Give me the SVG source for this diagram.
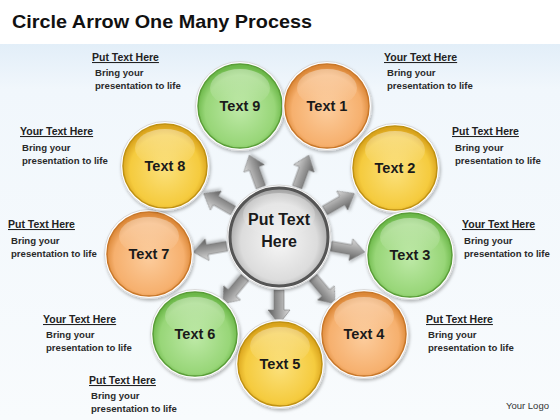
<svg xmlns="http://www.w3.org/2000/svg" width="560" height="420" viewBox="0 0 560 420">
<defs>
<linearGradient id="bg" x1="0" y1="0" x2="0" y2="1">
<stop offset="0" stop-color="#e2eef8"/><stop offset="0.12" stop-color="#f1f7fc"/><stop offset="1" stop-color="#f8fbfd"/>
</linearGradient>
<radialGradient id="gGreen" cx="50%" cy="55%" r="52%">
<stop offset="0" stop-color="#bde9a6"/><stop offset="0.8" stop-color="#98d678"/><stop offset="1" stop-color="#6cb849"/>
</radialGradient>
<radialGradient id="gOrange" cx="50%" cy="55%" r="52%">
<stop offset="0" stop-color="#fccc9c"/><stop offset="0.8" stop-color="#f6b06e"/><stop offset="1" stop-color="#dc8838"/>
</radialGradient>
<radialGradient id="gYellow" cx="50%" cy="55%" r="52%">
<stop offset="0" stop-color="#fbe07a"/><stop offset="0.8" stop-color="#f5cb3e"/><stop offset="1" stop-color="#d9a31c"/>
</radialGradient>
<radialGradient id="gGrey" cx="50%" cy="55%" r="52%">
<stop offset="0" stop-color="#f6f6f6"/><stop offset="0.75" stop-color="#dcdcdc"/><stop offset="1" stop-color="#a8a8a8"/>
</radialGradient>
<linearGradient id="gloss" x1="0" y1="0" x2="0" y2="1">
<stop offset="0" stop-color="#ffffff" stop-opacity="0.4"/><stop offset="1" stop-color="#ffffff" stop-opacity="0"/>
</linearGradient>
<linearGradient id="gArrow" x1="0" y1="0" x2="0" y2="1">
<stop offset="0" stop-color="#dcdcdc"/><stop offset="0.5" stop-color="#9c9c9c"/><stop offset="1" stop-color="#5e5e5e"/>
</linearGradient>
<filter id="sh" x="-20%" y="-20%" width="140%" height="140%">
<feDropShadow dx="1" dy="2" stdDeviation="1.5" flood-color="#000" flood-opacity="0.25"/>
</filter>
<path id="arr" d="M0,-5 L20,-5 L20,-11 L34,0 L20,11 L20,5 L0,5 Z"/>
</defs>
<style>
.halo{fill:#ffffff;stroke:#d8d8d8;stroke-width:1;filter:url(#sh)}
.green{fill:url(#gGreen);stroke:#5a9e38;stroke-width:1.5}
.orange{fill:url(#gOrange);stroke:#c9782a;stroke-width:1.5}
.yellow{fill:url(#gYellow);stroke:#c09212;stroke-width:1.5}
.lbl{font-family:"Liberation Sans",Arial,sans-serif;font-weight:bold;font-size:14.5px;fill:#1a1a1a;text-anchor:middle}
.hd{font-family:"Liberation Sans",Arial,sans-serif;font-weight:bold;font-size:10.5px;fill:#222;text-decoration:underline}
.bd{font-family:"Liberation Sans",Arial,sans-serif;font-weight:bold;font-size:9.6px;fill:#2a2a2a}
.arrow{fill:url(#gArrow);stroke:#7a7a7a;stroke-width:0.6;filter:url(#sh)}
</style>
<rect x="0" y="0" width="560" height="420" fill="#ffffff"/>
<rect x="0" y="44" width="560" height="376" fill="url(#bg)"/>
<text x="12" y="28" font-family="'Liberation Sans',Arial,sans-serif" font-weight="bold" font-size="19" fill="#111" textLength="300" lengthAdjust="spacingAndGlyphs">Circle Arrow One Many Process</text>

<g id="connectors">
<use href="#arr" class="arrow" transform="translate(279,237) rotate(-110) translate(53,0)"/>
<use href="#arr" class="arrow" transform="translate(279,237) rotate(-70) translate(53,0)"/>
<use href="#arr" class="arrow" transform="translate(279,237) rotate(-30) translate(53,0)"/>
<use href="#arr" class="arrow" transform="translate(279,237) rotate(10) translate(53,0)"/>
<use href="#arr" class="arrow" transform="translate(279,237) rotate(50) translate(53,0)"/>
<use href="#arr" class="arrow" transform="translate(279,237) rotate(90) translate(53,0)"/>
<use href="#arr" class="arrow" transform="translate(279,237) rotate(130) translate(53,0)"/>
<use href="#arr" class="arrow" transform="translate(279,237) rotate(170) translate(53,0)"/>
<use href="#arr" class="arrow" transform="translate(279,237) rotate(-150) translate(53,0)"/>
</g>

<g id="center" transform="translate(279,237)">
<circle r="52" class="halo"/>
<circle r="49" fill="url(#gGrey)" stroke="#555555" stroke-width="3"/>
<ellipse cx="0" cy="-22" rx="36" ry="22" fill="url(#gloss)"/>
<text y="-12" class="lbl" style="font-size:16px">Put Text</text>
<text y="10" class="lbl" style="font-size:16px">Here</text>
</g>

<g id="node-text9" transform="translate(240,106)">
<circle r="44.5" class="halo"/><circle r="42" class="green"/>
<ellipse cx="0" cy="-18" rx="30" ry="19" fill="url(#gloss)"/>
<text y="5" class="lbl">Text 9</text>
</g>
<g id="node-text1" transform="translate(327,106)">
<circle r="44.5" class="halo"/><circle r="42" class="orange"/>
<ellipse cx="0" cy="-18" rx="30" ry="19" fill="url(#gloss)"/>
<text y="5" class="lbl">Text 1</text>
</g>
<g id="node-text2" transform="translate(395,168)">
<circle r="44.5" class="halo"/><circle r="42" class="yellow"/>
<ellipse cx="0" cy="-18" rx="30" ry="19" fill="url(#gloss)"/>
<text y="5" class="lbl">Text 2</text>
</g>
<g id="node-text3" transform="translate(410,255)">
<circle r="44.5" class="halo"/><circle r="42" class="green"/>
<ellipse cx="0" cy="-18" rx="30" ry="19" fill="url(#gloss)"/>
<text y="5" class="lbl">Text 3</text>
</g>
<g id="node-text4" transform="translate(364,334)">
<circle r="44.5" class="halo"/><circle r="42" class="orange"/>
<ellipse cx="0" cy="-18" rx="30" ry="19" fill="url(#gloss)"/>
<text y="5" class="lbl">Text 4</text>
</g>
<g id="node-text5" transform="translate(280,364)">
<circle r="44.5" class="halo"/><circle r="42" class="yellow"/>
<ellipse cx="0" cy="-18" rx="30" ry="19" fill="url(#gloss)"/>
<text y="5" class="lbl">Text 5</text>
</g>
<g id="node-text6" transform="translate(195,334)">
<circle r="44.5" class="halo"/><circle r="42" class="green"/>
<ellipse cx="0" cy="-18" rx="30" ry="19" fill="url(#gloss)"/>
<text y="5" class="lbl">Text 6</text>
</g>
<g id="node-text7" transform="translate(149,254)">
<circle r="44.5" class="halo"/><circle r="42" class="orange"/>
<ellipse cx="0" cy="-18" rx="30" ry="19" fill="url(#gloss)"/>
<text y="5" class="lbl">Text 7</text>
</g>
<g id="node-text8" transform="translate(165,166)">
<circle r="44.5" class="halo"/><circle r="42" class="yellow"/>
<ellipse cx="0" cy="-18" rx="30" ry="19" fill="url(#gloss)"/>
<text y="5" class="lbl">Text 8</text>
</g>

<g id="notes">
<text x="92" y="61" class="hd">Put Text Here</text>
<text x="95" y="76" class="bd">Bring your</text>
<text x="95" y="89" class="bd">presentation to life</text>

<text x="384" y="61" class="hd">Your Text Here</text>
<text x="387" y="76" class="bd">Bring your</text>
<text x="387" y="89" class="bd">presentation to life</text>

<text x="20" y="135" class="hd">Your Text Here</text>
<text x="22" y="151" class="bd">Bring your</text>
<text x="22" y="164" class="bd">presentation to life</text>

<text x="452" y="135" class="hd">Put Text Here</text>
<text x="455" y="151" class="bd">Bring your</text>
<text x="455" y="164" class="bd">presentation to life</text>

<text x="8" y="228" class="hd">Put Text Here</text>
<text x="11" y="244" class="bd">Bring your</text>
<text x="11" y="257" class="bd">presentation to life</text>

<text x="462" y="228" class="hd">Your Text Here</text>
<text x="464" y="244" class="bd">Bring your</text>
<text x="464" y="257" class="bd">presentation to life</text>

<text x="43" y="323" class="hd">Your Text Here</text>
<text x="46" y="338" class="bd">Bring your</text>
<text x="46" y="351" class="bd">presentation to life</text>

<text x="426" y="323" class="hd">Put Text Here</text>
<text x="428" y="338" class="bd">Bring your</text>
<text x="428" y="351" class="bd">presentation to life</text>

<text x="89" y="384" class="hd">Put Text Here</text>
<text x="91" y="399" class="bd">Bring your</text>
<text x="91" y="412" class="bd">presentation to life</text>
</g>
<text x="506" y="409" font-family="'Liberation Sans',Arial,sans-serif" font-size="9.5" fill="#333">Your Logo</text>
</svg>
